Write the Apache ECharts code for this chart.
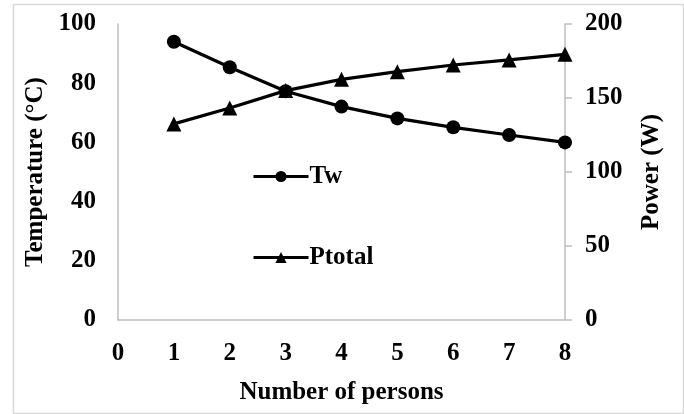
<!DOCTYPE html>
<html>
<head>
<meta charset="utf-8">
<script src="https://cdn.jsdelivr.net/npm/echarts@6/dist/echarts.min.js"></script>
<style>
html,body{margin:0;padding:0;background:#fff;}
#chart{width:684px;height:414px;}
</style>
</head>
<body>
<div id="chart"></div>
<script>
const persons = [1, 2, 3, 4, 5, 6, 7, 8];
const twValues = [94.0, 85.4, 77.3, 72.1, 68.1, 65.1, 62.5, 60.0];
const ptotalValues = [132.5, 143.2, 155.0, 162.6, 167.8, 172.3, 175.7, 179.5];
const seriesNames = ['Tw', 'Ptotal'];
const xAxisTitle = 'Number of persons';
const leftAxisTitle = 'Temperature (°C)';
const rightAxisTitle = 'Power (W)';

const FONT = '"Liberation Serif", "Times New Roman", serif';
const axisColor = '#bfbfbf';
const labelStyle = { color: '#000', fontFamily: FONT, fontWeight: 'bold', fontSize: 25 };

const chart = echarts.init(document.getElementById('chart'), null, { renderer: 'canvas' });
chart.setOption({
  animation: false,
  backgroundColor: '#fff',
  graphic: [{
    type: 'rect',
    left: 11, top: 2,
    shape: { width: 670, height: 409 },
    style: { fill: 'none', stroke: '#d9d9d9', lineWidth: 1.5 },
    silent: true
  }],
  grid: { left: 118, right: 119, top: 24, bottom: 94 },
  legend: {
    orient: 'vertical',
    left: 247,
    top: 159,
    itemGap: 56,
    itemWidth: 55,
    itemHeight: 14,
    lineStyle: { color: '#000', width: 3 },
    textStyle: { color: '#000', fontFamily: FONT, fontWeight: 'bold', fontSize: 25, padding: [0, 0, 0, -4] },
    data: seriesNames
  },
  xAxis: {
    type: 'value',
    min: 0, max: 8, interval: 1,
    name: xAxisTitle,
    nameLocation: 'middle',
    nameGap: 60,
    nameTextStyle: labelStyle,
    axisLine: { show: true, lineStyle: { color: axisColor, width: 1.5 } },
    axisTick: { show: false },
    splitLine: { show: false },
    axisLabel: Object.assign({ margin: 21 }, labelStyle)
  },
  yAxis: [{
    type: 'value',
    min: 0, max: 100, interval: 20,
    name: leftAxisTitle,
    nameLocation: 'middle',
    nameGap: 70,
    nameTextStyle: labelStyle,
    axisLine: { show: true, lineStyle: { color: axisColor, width: 1.5 } },
    axisTick: { show: false },
    splitLine: { show: false },
    axisLabel: Object.assign({ margin: 22 }, labelStyle)
  }, {
    type: 'value',
    position: 'right',
    min: 0, max: 200, interval: 50,
    name: rightAxisTitle,
    nameLocation: 'middle',
    nameRotate: 90,
    nameGap: 74,
    nameTextStyle: labelStyle,
    axisLine: { show: true, lineStyle: { color: axisColor, width: 1.5 } },
    axisTick: { show: true, inside: false, length: 7, lineStyle: { color: axisColor, width: 1.5 } },
    splitLine: { show: false },
    axisLabel: Object.assign({ margin: 20 }, labelStyle)
  }],
  series: [{
    name: seriesNames[0],
    type: 'line',
    yAxisIndex: 0,
    data: persons.map((x, i) => [x, twValues[i]]),
    symbol: 'circle',
    symbolSize: 14,
    lineStyle: { color: '#000', width: 3.2 },
    itemStyle: { color: '#000' }
  }, {
    name: seriesNames[1],
    type: 'line',
    yAxisIndex: 1,
    data: persons.map((x, i) => [x, ptotalValues[i]]),
    symbol: 'triangle',
    symbolSize: 15,
    lineStyle: { color: '#000', width: 3.2 },
    itemStyle: { color: '#000' }
  }]
});
</script>
</body>
</html>
